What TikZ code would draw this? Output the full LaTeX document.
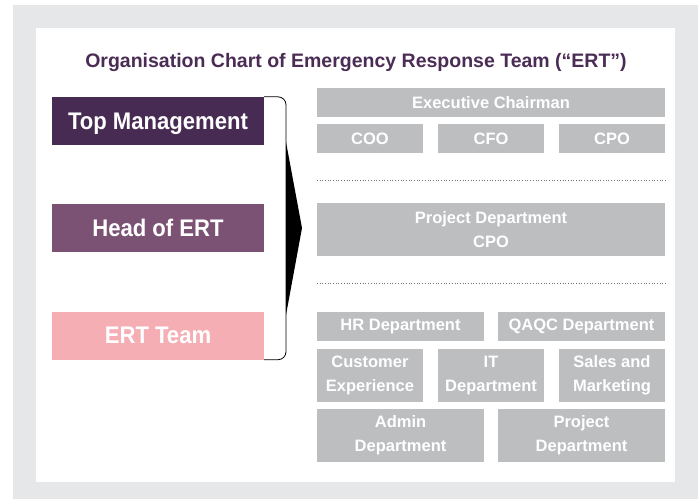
\documentclass[tikz,border=0pt]{standalone}
\usepackage{fontspec}
\setmainfont{Liberation Sans}
\newfontfamily\rolefont[FakeStretch=0.92]{Liberation Sans}
\usepackage{tikz}
\usetikzlibrary{calc,backgrounds}
\definecolor{panelgray}{HTML}{E6E7E8}
\definecolor{titlepurple}{HTML}{4A2C55}
\definecolor{toppurple}{HTML}{482B53}
\definecolor{headpurple}{HTML}{7B5273}
\definecolor{teampink}{HTML}{F6AEB5}
\definecolor{boxgray}{HTML}{BDBEC0}
\tikzstyle{orgtitle}=[
  text=titlepurple, inner sep=0pt, anchor=base, font=\fontsize{19.5}{23}\selectfont\bfseries
]
\tikzstyle{rolebox}=[
  minimum width=212pt, minimum height=48pt, inner sep=0pt, text depth=0pt,
  text=white, font=\rolefont\fontsize{24}{28}\selectfont\bfseries
]
\tikzstyle{deptbox}=[
  fill=boxgray, inner sep=0pt, text=white, align=center,
  font=\fontsize{16.5}{24}\selectfont\bfseries
]
\tikzstyle{sepline}=[
  draw=black!55, dotted, line width=0.7pt
]
\tikzstyle{chevron}=[
  top color=black!2, bottom color=black!12
]

\begin{document}
\begin{tikzpicture}[x=1pt, y=-1pt]
      \def\wide{348pt}
      \def\half{167pt}
      \def\third{106pt}
        \useasboundingbox (0,0) rectangle (700,499);
        \fill[panelgray] (13,5) rectangle (698,499);
        \fill[white] (36,28) rectangle (675,482);

        \node (title) at (356,67) [orgtitle] {Organisation Chart of Emergency Response Team (“ERT”)};

        % left column
        \node (top) at (158,121) [rolebox, fill=toppurple] {Top Management};
        \node (head) at (158,228) [rolebox, fill=headpurple] {Head of ERT};
        \node (team) at (158,335.5) [rolebox, fill=teampink] {ERT Team};
        \coordinate (bend) at (286,228);
        \coordinate (tip) at (302,228);

        % right column
        \node (exec) at (491,102.5) [deptbox, minimum width=\wide, minimum height=29pt] {Executive Chairman};
        \node (coo) at (370,138.5) [deptbox, minimum width=\third, minimum height=29pt] {COO};
        \node (cfo) at (491,138.5) [deptbox, minimum width=\third, minimum height=29pt] {CFO};
        \node (cpo) at (612,138.5) [deptbox, minimum width=\third, minimum height=29pt] {CPO};
        \node (projcpo) at (491,229.5) [deptbox, minimum width=\wide, minimum height=53pt] {Project Department\\CPO};
        \node (hr) at (400.5,326.5) [deptbox, minimum width=\half, minimum height=29pt] {HR Department};
        \node (qaqc) at (581.5,326.5) [deptbox, minimum width=\half, minimum height=29pt] {QAQC Department};
        \node (cx) at (370,375.5) [deptbox, minimum width=\third, minimum height=53pt] {Customer\\Experience};
        \node (it) at (491,375.5) [deptbox, minimum width=\third, minimum height=53pt] {IT\\Department};
        \node (sales) at (612,375.5) [deptbox, minimum width=\third, minimum height=53pt] {Sales and\\Marketing};
        \node (admin) at (400.5,435.5) [deptbox, minimum width=\half, minimum height=53pt] {Admin\\Department};
        \node (projdept) at (581.5,435.5) [deptbox, minimum width=\half, minimum height=53pt] {Project\\Department};

        \coordinate (sepa) at ($(exec.west) + (0,77.5)$);
        \coordinate (sepb) at ($(exec.west) + (0,180.5)$);

        \begin{scope}[on background layer]
          \shade[chevron] (top.south west) -- (top.south east) -- ($(top.south) + (0,22)$) -- cycle;
          \shade[chevron] (head.south west) -- (head.south east) -- ($(head.south) + (0,22)$) -- cycle;
        \end{scope}

        \draw [sepline] (sepa) -- (sepa -| exec.east);
        \draw [sepline] (sepb) -- (sepb -| exec.east);
        \draw [rounded corners=8pt, line width=0.8pt] (top.north east) -| (bend) |- (team.south east);
        \fill (bend |- 0,142) -- (tip) -- (bend |- 0,315) -- cycle;
    \end{tikzpicture}
\end{document}
